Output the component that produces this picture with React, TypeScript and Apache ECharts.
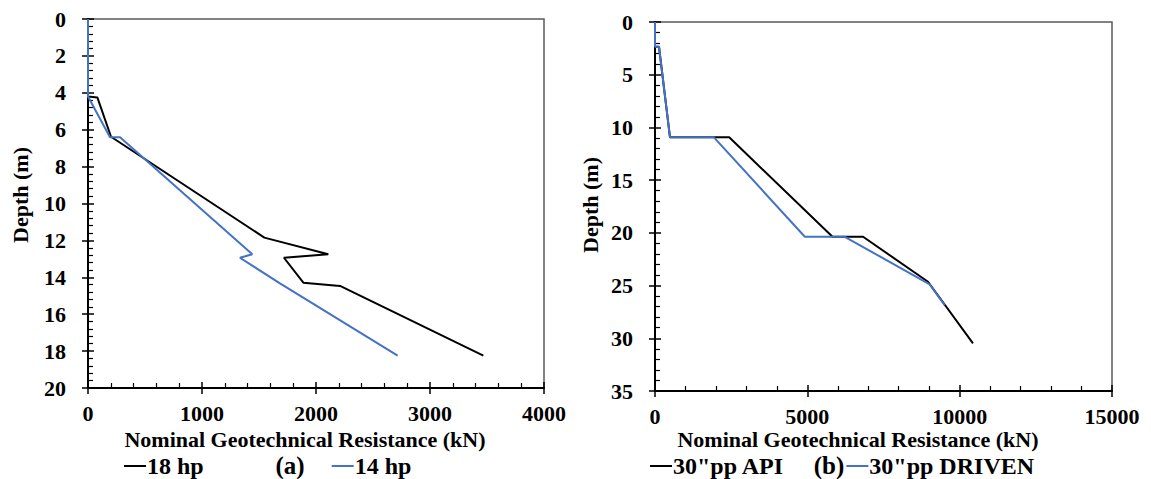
import React, { useEffect, useRef } from 'react';
import * as echarts from 'echarts';

// Panel (a): nominal geotechnical resistance (kN) vs depth (m)
const resA18 = [0, 0, 82, 202, 1547, 2108, 1719, 1889, 2211, 3468];
const depthA18 = [0, 4.2, 4.25, 6.38, 11.85, 12.75, 12.94, 14.29, 14.47, 18.25];
const resA14 = [0, 0, 193, 281, 1441, 1333, 1684, 2716];
const depthA14 = [0, 4.2, 6.41, 6.41, 12.75, 12.94, 14.33, 18.25];

// Panel (b)
const resBApi = [0, 0, 131, 492, 2436, 5826, 6830, 8961, 10437];
const depthBApi = [0, 2.34, 2.34, 10.94, 10.94, 20.37, 20.37, 24.64, 30.48];
const resBDriven = [0, 0, 131, 492, 1934, 4918, 6230, 9016, 9508];
const depthBDriven = [0, 2.34, 2.34, 10.94, 10.94, 20.37, 20.37, 24.89, 26.85];

const seriesNames = ['18 hp', '14 hp', '30"pp API', '30"pp DRIVEN'];
const xTitle = 'Nominal Geotechnical Resistance (kN)';
const yTitle = 'Depth (m)';
const panelLabels = ['(a)', '(b)'];

const FONT = '"Liberation Serif", "Times New Roman", serif';
const BLACK = '#000000';
const BLUE = '#4472C4';
const FS = 22;
const LFS = 24;

const zip = (xs: number[], ys: number[]) => xs.map((x, i) => [x, ys[i]]);

export default function App() {
  const ref = useRef<HTMLDivElement>(null);
  useEffect(() => {
    if (!ref.current) return;
    const chart = echarts.init(ref.current, undefined, { renderer: 'svg' });

    const grids = [
      { left: 88, top: 19, width: 456, height: 369 },
      { left: 88, top: 19, width: 456, height: 369 },
      { left: 655, top: 22, width: 457, height: 369 },
      { left: 655, top: 22, width: 457, height: 369 },
    ].map((g, i) => ({
      ...g,
      containLabel: false,
      show: i % 2 === 0,
      borderColor: '#595959',
      borderWidth: 1.5,
    }));

    const labelStyle = {
      fontFamily: FONT,
      fontWeight: 'bold' as const,
      fontSize: FS,
      color: BLACK,
    };
    const plain = (v: number) => String(v);

    const mainX = (grid: number, max: number, interval: number) => ({
      type: 'value' as const,
      gridIndex: grid,
      min: 0,
      max,
      interval,
      position: 'bottom' as const,
      axisLine: { show: true, onZero: false, lineStyle: { color: BLACK, width: 2 } },
      axisTick: { show: true, inside: false, length: 6, lineStyle: { color: BLACK, width: 1.5 } },
      axisLabel: { ...labelStyle, margin: 14, formatter: plain },
      splitLine: { show: false },
    });
    const overlayX = (grid: number, max: number, interval: number) => ({
      type: 'value' as const,
      gridIndex: grid,
      min: 0,
      max,
      interval,
      position: 'bottom' as const,
      axisLine: { show: false, onZero: false },
      axisTick: { show: true, inside: true, length: 6, lineStyle: { color: BLACK, width: 1.5 } },
      minorTick: { show: true, splitNumber: 5, length: 5, lineStyle: { color: BLACK, width: 1.2 } },
      axisLabel: { show: false },
      splitLine: { show: false },
    });
    const mainY = (grid: number, max: number, interval: number) => ({
      type: 'value' as const,
      gridIndex: grid,
      min: 0,
      max,
      interval,
      inverse: true,
      position: 'left' as const,
      axisLine: { show: true, onZero: false, lineStyle: { color: BLACK, width: 2 } },
      axisTick: { show: true, inside: false, length: 6, lineStyle: { color: BLACK, width: 1.5 } },
      axisLabel: { ...labelStyle, margin: 22, formatter: plain },
      splitLine: { show: false },
    });
    const overlayY = (grid: number, max: number, interval: number) => ({
      type: 'value' as const,
      gridIndex: grid,
      min: 0,
      max,
      interval,
      inverse: true,
      position: 'left' as const,
      axisLine: { show: false, onZero: false },
      axisTick: { show: true, inside: true, length: 6, lineStyle: { color: BLACK, width: 1.5 } },
      minorTick: { show: true, splitNumber: 5, length: 5, lineStyle: { color: BLACK, width: 1.2 } },
      axisLabel: { show: false },
      splitLine: { show: false },
    });

    const line = (name: string, xi: number, data: number[][], color: string) => ({
      name,
      type: 'line' as const,
      xAxisIndex: xi,
      yAxisIndex: xi,
      data,
      showSymbol: false,
      symbol: 'none',
      color,
      lineStyle: { color, width: 2 },
      z: 3,
    });

    const titleFont = `bold ${FS}px ${FONT}`;
    const txt = (text: string, x: number, y: number, font: string, rotation = 0) => ({
      type: 'text' as const,
      x,
      y,
      rotation,
      style: {
        text,
        font,
        fill: BLACK,
        textAlign: 'center',
        textVerticalAlign: 'middle',
        align: 'center',
        verticalAlign: 'middle',
      },
    });

    const legendBase = {
      orient: 'horizontal' as const,
      icon: 'rect',
      itemWidth: 22,
      itemHeight: 2,
      padding: 0,
      selectedMode: false,
      textStyle: { ...labelStyle, fontSize: LFS, padding: [0, 0, 0, -4] },
    };

    chart.setOption({
      animation: false,
      backgroundColor: '#ffffff',
      grid: grids,
      xAxis: [mainX(0, 4000, 1000), overlayX(1, 4000, 1000), mainX(2, 15000, 5000), overlayX(3, 15000, 5000)],
      yAxis: [mainY(0, 20, 2), overlayY(1, 20, 2), mainY(2, 35, 5), overlayY(3, 35, 5)],
      legend: [
        { ...legendBase, data: [seriesNames[0], seriesNames[1]], left: 124, top: 454, itemGap: 128 },
        { ...legendBase, data: [seriesNames[2], seriesNames[3]], left: 650, top: 454, itemGap: 62 },
      ],
      series: [
        line(seriesNames[0], 0, zip(resA18, depthA18), BLACK),
        line(seriesNames[1], 0, zip(resA14, depthA14), BLUE),
        line(seriesNames[2], 2, zip(resBApi, depthBApi), BLACK),
        line(seriesNames[3], 2, zip(resBDriven, depthBDriven), BLUE),
      ],
      graphic: [
        txt(xTitle, 305, 439, titleFont),
        txt(xTitle, 858, 439, titleFont),
        txt(yTitle, 20, 195, titleFont, Math.PI / 2),
        txt(yTitle, 590, 205, titleFont, Math.PI / 2),
        txt(panelLabels[0], 290, 465, `bold 25px ${FONT}`),
        txt(panelLabels[1], 829, 465, `bold 25px ${FONT}`),
      ],
    });
    return () => chart.dispose();
  }, []);
  return (
    <div
      ref={ref}
      style={{ position: 'fixed', left: 0, top: 0, width: 1151, height: 479, background: '#fff' }}
    />
  );
}
